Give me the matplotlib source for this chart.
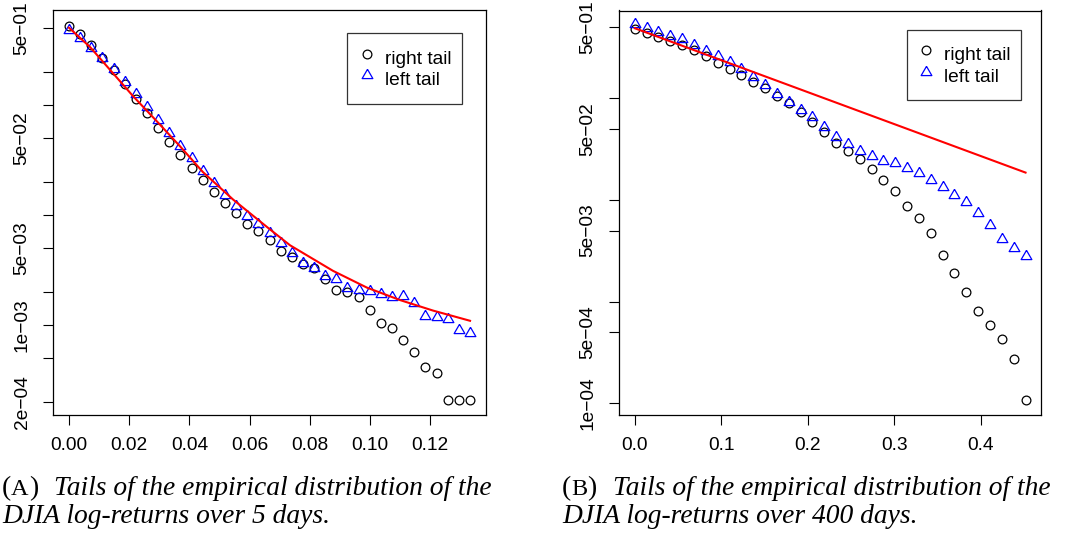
import matplotlib.pyplot as plt
import matplotlib.ticker as ticker

plt.rcParams["font.family"] = ["Liberation Sans", "DejaVu Sans"]

W, H = 1074, 536

# ── panel A: log-returns over 5 days ─────────────────────────────────────────
x5 = [0.0, 0.0037, 0.0074, 0.0111, 0.0148, 0.0185, 0.0222, 0.0259, 0.0296,
      0.0333, 0.0370, 0.0407, 0.0444, 0.0481, 0.0518, 0.0555, 0.0592, 0.0629,
      0.0666, 0.0703, 0.0740, 0.0777, 0.0814, 0.0851, 0.0888, 0.0925, 0.0962,
      0.0999, 0.1036, 0.1073, 0.1110, 0.1147, 0.1184, 0.1221, 0.1258, 0.1295,
      0.1332]
right5 = [0.521, 0.438, 0.350, 0.269, 0.207, 0.154, 0.113, 0.0839, 0.0613,
          0.0457, 0.0350, 0.0265, 0.0208, 0.0160, 0.0129, 0.0103, 0.00823,
          0.00714, 0.00587, 0.00467, 0.00417, 0.00356, 0.00327, 0.00260,
          0.00208, 0.00200, 0.00180, 0.00136, 0.00103, 0.000931, 0.000729,
          0.000570, 0.000417, 0.000363, 0.000208, 0.000208, 0.000208]
left5 = [0.479, 0.403, 0.327, 0.265, 0.212, 0.1625, 0.1256, 0.0951, 0.0729,
         0.0552, 0.0426, 0.0327, 0.0252, 0.0194, 0.0152, 0.0121, 0.00983,
         0.00823, 0.00689, 0.00559, 0.00448, 0.00368, 0.00327, 0.00278,
         0.00260, 0.00218, 0.00208, 0.00205, 0.00191, 0.00180, 0.00183,
         0.00157, 0.00121, 0.00117, 0.00112, 0.000899, 0.000839]
fit5_x = [0.0, 0.007, 0.0136, 0.0213, 0.0296, 0.0369, 0.0445, 0.0545, 0.0658,
          0.0734, 0.0877, 0.0990, 0.110, 0.1209, 0.1332]
fit5_y = [0.503, 0.336, 0.209, 0.120, 0.0690, 0.0420, 0.0245, 0.0138, 0.00775,
          0.00530, 0.00310, 0.00218, 0.00168, 0.00135, 0.00109]

# ── panel B: log-returns over 400 days ───────────────────────────────────────
x400 = [0.0, 0.0137, 0.0274, 0.0411, 0.0548, 0.0685, 0.0822, 0.0959, 0.1096,
        0.1233, 0.1370, 0.1507, 0.1644, 0.1781, 0.1918, 0.2055, 0.2192, 0.2329,
        0.2466, 0.2603, 0.2740, 0.2877, 0.3014, 0.3151, 0.3288, 0.3425, 0.3562,
        0.3699, 0.3836, 0.3973, 0.4110, 0.4247, 0.4384, 0.4521]
right400 = [0.478, 0.442, 0.404, 0.367, 0.335, 0.299, 0.261, 0.224, 0.193,
            0.170, 0.146, 0.126, 0.106, 0.0894, 0.0739, 0.0589, 0.0464, 0.0361,
            0.0303, 0.0251, 0.0200, 0.0157, 0.0123, 0.00879, 0.00660, 0.00477,
            0.00288, 0.00190, 0.00125, 0.000809, 0.000589, 0.000429, 0.000271,
            0.000108]
left400 = [0.539, 0.496, 0.453, 0.413, 0.381, 0.335, 0.294, 0.261, 0.226,
           0.194, 0.161, 0.135, 0.110, 0.0927, 0.0768, 0.0651, 0.0526, 0.0414,
           0.0356, 0.0305, 0.0273, 0.0243, 0.0230, 0.0208, 0.0186, 0.0157,
           0.0133, 0.0112, 0.00949, 0.00740, 0.00568, 0.00411, 0.00340, 0.00283]
fit400_x = [0.0, 0.4521]
fit400_y = [0.489, 0.0186]

# ── axis ticks ───────────────────────────────────────────────────────────────
xticks5 = [0.00, 0.02, 0.04, 0.06, 0.08, 0.10, 0.12]
yticks5 = [5e-1, 2e-1, 1e-1, 5e-2, 2e-2, 1e-2, 5e-3, 2e-3, 1e-3, 5e-4, 2e-4]
ylabels5 = ["5e−01", "", "", "5e−02", "", "", "5e−03", "", "1e−03", "", "2e−04"]
xticks400 = [0.0, 0.1, 0.2, 0.3, 0.4]
yticks400 = [5e-1, 1e-1, 5e-2, 1e-2, 5e-3, 1e-3, 5e-4, 1e-4]
ylabels400 = ["5e−01", "", "5e−02", "", "5e−03", "", "5e−04", "1e−04"]

TICK_FS = 13.8
TRI = [(0, 1), (0.866, -0.5), (-0.866, -0.5), (0, 1)]   # R-style pch=2

fig = plt.figure(figsize=(W / 100, H / 100), dpi=100)


def panel(rect, x, rt, lt, fx, fy, xlim, ylim, xticks, xfmt, yticks, ylabels, anchor):
    ax = fig.add_axes(rect)
    ax.set_yscale("log")
    ax.plot(x, rt, linestyle="none", marker="o", markersize=6.3,
            markerfacecolor="none", markeredgecolor="black",
            markeredgewidth=0.9, label="right tail")
    ax.plot(x, lt, linestyle="none", marker=TRI, markersize=8.9,
            markerfacecolor="none", markeredgecolor="#0000ff",
            markeredgewidth=0.9, label="left tail")
    ax.plot(fx, fy, color="#ff0000", linewidth=1.5)
    ax.set_xlim(*xlim)
    ax.set_ylim(*ylim)
    ax.set_xticks(xticks)
    ax.xaxis.set_major_formatter(ticker.FormatStrFormatter(xfmt))
    ax.set_yticks(yticks)
    ax.set_yticklabels(ylabels)
    ax.yaxis.set_minor_locator(ticker.NullLocator())
    ax.tick_params(length=7.2, width=0.8, pad=9, labelsize=TICK_FS, color="black")
    ax.tick_params(axis="y", labelrotation=90)
    for lbl in ax.get_yticklabels():
        lbl.set_va("center")
    for sp in ax.spines.values():
        sp.set_linewidth(0.9)
    leg = ax.legend(loc="upper right", bbox_to_anchor=anchor, fontsize=TICK_FS,
                    frameon=True, fancybox=False, edgecolor="black",
                    borderpad=0.55, handlelength=0.9, handletextpad=0.5,
                    handleheight=1.85, labelspacing=-0.32, borderaxespad=0,
                    numpoints=1)
    leg.get_frame().set_linewidth(0.9)
    return ax


panel([53 / W, 1 - 415 / H, 433 / W, 405 / H], x5, right5, left5, fit5_x, fit5_y,
      (-0.0053, 0.1385), (1.517e-4, 0.729), xticks5, "%.2f",
      yticks5, ylabels5, (0.944, 0.9425))
panel([619 / W, 1 - 415 / H, 422 / W, 404.5 / H], x400, right400, left400,
      fit400_x, fit400_y, (-0.0183, 0.470), (7.67e-5, 0.731), xticks400, "%.1f",
      yticks400, ylabels400, (0.9526, 0.952))

# ── captions ─────────────────────────────────────────────────────────────────
CAP_FS = 19.8
renderer = fig.canvas.get_renderer()


def put(xpx, ypx, s, size, style):
    t = fig.text(xpx / W, 1 - ypx / H, s, fontsize=size, fontstyle=style,
                 family=["Liberation Serif", "DejaVu Serif"], va="baseline")
    return t.get_window_extent(renderer).x1


def caption(xpx, letter, line1, line2):
    x = put(xpx, 495, "(", CAP_FS, "normal")
    x = put(x, 495, letter, CAP_FS * 0.88, "normal")
    x = put(x, 495, ")", CAP_FS, "normal")
    put(x + 16, 495, line1, CAP_FS, "italic")
    put(xpx, 523, line2, CAP_FS, "italic")


caption(2, "A", "Tails of the empirical distribution of the",
        "DJIA log-returns over 5 days.")
caption(562, "B", "Tails of the empirical distribution of the",
        "DJIA log-returns over 400 days.")

fig.savefig("out.png", dpi=100)
